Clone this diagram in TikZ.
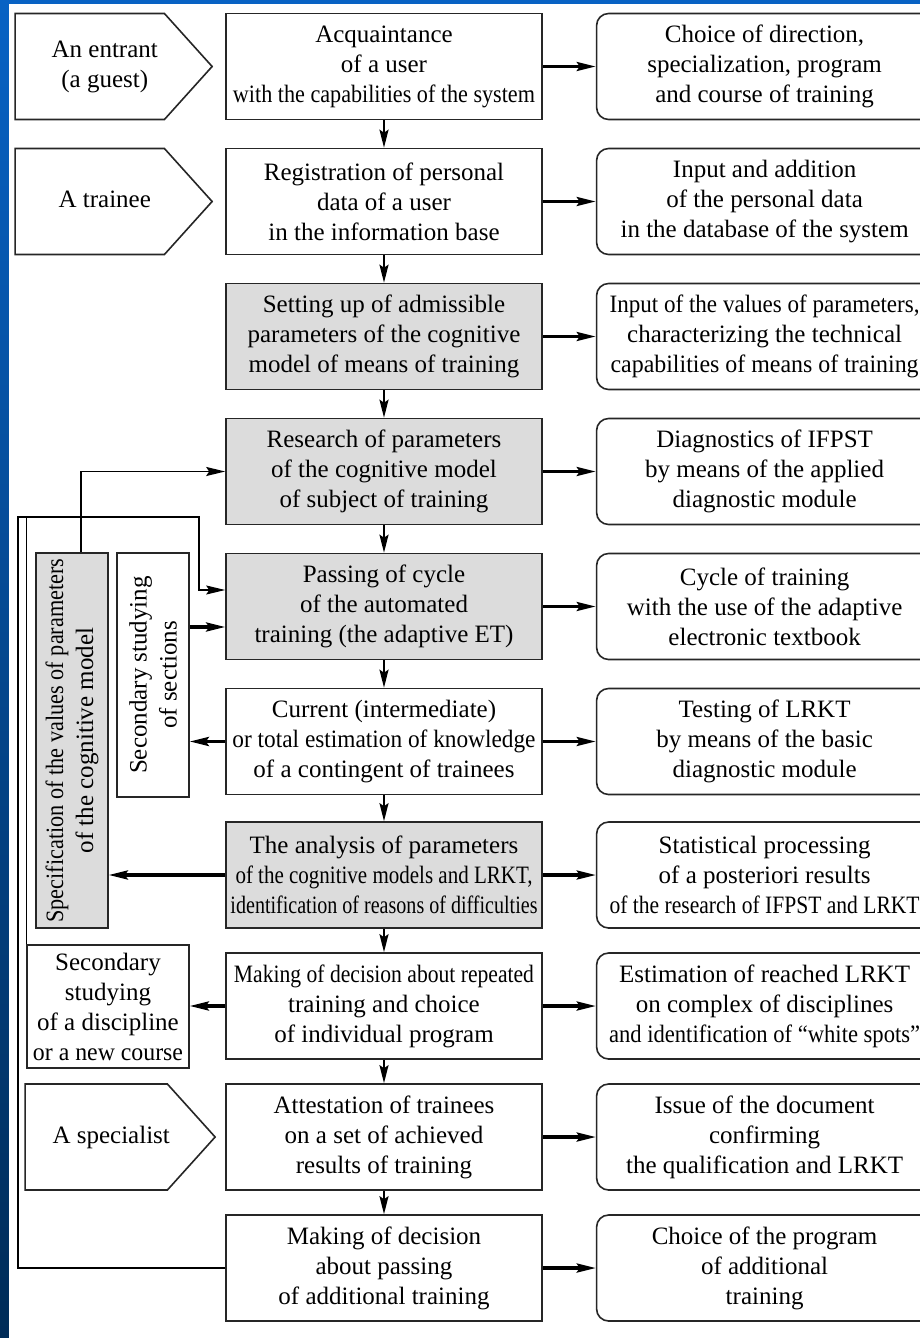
\documentclass[tikz,border=0pt]{standalone}
\usepackage{fontspec}
\setmainfont{Liberation Serif}
\usepackage{xcolor}
\usepackage{graphicx}
\usepackage{tikz}
\usetikzlibrary{shapes.geometric, shapes.symbols, arrows.meta, positioning}

\definecolor{slideblue}{RGB}{8,98,196}
\definecolor{slidenavy}{RGB}{0,44,88}
\definecolor{boxgray}{RGB}{220,220,220}
\newcommand{\squeeze}[2]{\resizebox{#1}{\height}{#2}}
\newcommand{\actortext}[1]{\hspace*{7.5pt}\begin{tabular}{@{}c@{}}#1\end{tabular}\hspace*{-7.5pt}}

\begin{document}
\begin{tikzpicture}[x=0.5pt, y=-0.5pt, node distance=67.5pt, font=\fontsize{12.5}{15}\selectfont]
        \tikzstyle{stage} = [rectangle, minimum width=158pt, minimum height=53pt, inner sep=1pt, align=center, draw=black!85, line width=0.8pt, fill=white]
        \tikzstyle{graystage} = [stage, fill=boxgray]
        \tikzstyle{result} = [rectangle, rounded corners=6pt, minimum width=168pt, minimum height=53pt, inner sep=1pt, align=center, draw=black!85, line width=0.8pt, fill=white]
        \tikzstyle{actor} = [signal, signal to=east, signal pointer angle=96, minimum height=53pt, minimum width=98.5pt, inner sep=1pt, draw=black!85, line width=0.8pt, fill=white]
        \tikzstyle{sidebox} = [rectangle, inner sep=1pt, align=center, draw=black!85, line width=0.8pt, fill=white]
        \tikzstyle{arrow} = [line width=1.6pt, -{Stealth[length=9.5pt, width=4.5pt, inset=1.5pt]}]
        \tikzstyle{downarrow} = [line width=1pt, -{Stealth[length=9pt, width=4.5pt, inset=1.5pt]}]
        \tikzstyle{loopline} = [line width=0.6pt]
        \tikzstyle{looparrow} = [loopline, -{Stealth[length=9.5pt, width=4.5pt, inset=1.5pt]}]

        \path[use as bounding box, clip] (0,0) rectangle (920,1338);
        \fill[top color=slideblue, bottom color=slidenavy] (0,0) rectangle (920,1338);
        \fill[white] (9,4) rectangle (920,1338);

        \node (acq) [stage] at (384,66.5) {Acquaintance\\of a user\\\squeeze{151pt}{with the capabilities of the system}};
        \node (reg) [stage, below of=acq] {Registration of personal\\data of a user\\in the information base};
        \node (setting) [graystage, below of=reg] {Setting up of admissible\\parameters of the cognitive\\model of means of training};
        \node (research) [graystage, below of=setting] {Research of parameters\\of the cognitive model\\of subject of training};
        \node (passing) [graystage, below of=research] {Passing of cycle\\of the automated\\training (the adaptive ET)};
        \node (current) [stage, below of=passing] {Current (intermediate)\\\squeeze{151.5pt}{or total estimation of knowledge}\\of a contingent of trainees};
        \node (analysis) [graystage, below of=current, yshift=0.75pt] {The analysis of parameters\\\squeeze{148.5pt}{of the cognitive models and LRKT,}\\\squeeze{153.5pt}{identification of reasons of difficulties}};
        \node (making) [stage, below of=analysis, yshift=2pt] {\squeeze{150pt}{Making of decision about repeated}\\training and choice\\of individual program};
        \node (attest) [stage, below of=making, yshift=2pt] {Attestation of trainees\\on a set of achieved\\results of training};
        \node (decide) [stage, below of=attest, yshift=2pt] {Making of decision\\about passing\\of additional training};

        \node (choice) [result, right=26.5pt of acq] {Choice of direction,\\specialization, program\\and course of training};
        \node (input) [result, right=26.5pt of reg] {Input and addition\\of the personal data\\in the database of the system};
        \node (values) [result, right=26.5pt of setting] {\squeeze{155pt}{Input of the values of parameters,}\\characterizing the technical\\\squeeze{154pt}{capabilities of means of training}};
        \node (diag) [result, right=26.5pt of research] {Diagnostics of IFPST\\by means of the applied\\diagnostic module};
        \node (cycle) [result, right=26.5pt of passing] {Cycle of training\\with the use of the adaptive\\electronic textbook};
        \node (testing) [result, right=26.5pt of current] {Testing of LRKT\\by means of the basic\\diagnostic module};
        \node (stat) [result, right=26.5pt of analysis] {Statistical processing\\of a posteriori results\\\squeeze{155pt}{of the research of IFPST and LRKT}};
        \node (estim) [result, right=26.5pt of making] {Estimation of reached LRKT\\on complex of disciplines\\\squeeze{155.5pt}{and identification of “white spots”}};
        \node (issue) [result, right=26.5pt of attest] {Issue of the document\\confirming\\the qualification and LRKT};
        \node (progchoice) [result, right=26.5pt of decide] {Choice of the program\\of additional\\training};

        \node (entrant) [actor, left=6pt of acq] {\actortext{An entrant\\(a guest)}};
        \node (trainee) [actor, left=6pt of reg] {\actortext{A trainee}};
        \node (specialist) [actor, minimum width=95pt, left=4.5pt of attest] {\actortext{A specialist}};

        \node (spec) [sidebox, fill=boxgray, rotate=90, minimum width=187.5pt, minimum height=36pt] at (72,740.5) {\squeeze{182pt}{Specification of the values of parameters}\\of the cognitive model};
        \node (sections) [sidebox, rotate=90, minimum width=122pt, minimum height=36pt] at (153,675) {Secondary studying\\of sections};
        \node (discipline) [sidebox, minimum width=81pt, minimum height=61.5pt] at (108,1006.5) {Secondary\\studying\\of a discipline\\\squeeze{75pt}{or a new course}};

        \draw [arrow] (acq) -- (choice);
        \draw [arrow] (reg) -- (input);
        \draw [arrow] (setting) -- (values);
        \draw [arrow] (research) -- (diag);
        \draw [arrow] (passing) -- (cycle);
        \draw [arrow] (current) -- (testing);
        \draw [arrow] (analysis) -- (stat);
        \draw [arrow] (making) -- (estim);
        \draw [arrow] (attest) -- (issue);
        \draw [arrow] (decide) -- (progchoice);

        \draw [downarrow] (acq) -- (reg);
        \draw [downarrow] (reg) -- (setting);
        \draw [downarrow] (setting) -- (research);
        \draw [downarrow] (research) -- (passing);
        \draw [downarrow] (passing) -- (current);
        \draw [downarrow] (current) -- (analysis);
        \draw [downarrow] (analysis) -- (making);
        \draw [downarrow] (making) -- (attest);
        \draw [downarrow] (attest) -- (decide);

        \coordinate (secin) at ([yshift=-10.25pt]passing.west);
        \coordinate (loopin) at ([yshift=8.25pt]passing.west);
        \coordinate (loopcorner) at (18,517);
        \coordinate (loopturn) at (199,517);

        \draw [arrow] (current.west) -- (current.west -| sections.south);
        \draw [arrow] (secin -| sections.south) -- (secin);
        \draw [arrow] (analysis.west) -- (analysis.west -| spec.south);
        \draw [arrow] (making.west) -- (making.west -| discipline.east);
        \draw [looparrow, line width=0.9pt] ([xshift=4.5pt]spec.east) |- (research.west);
        \draw [looparrow] (decide.west) -| (loopcorner) -- (loopturn) |- (loopin);
        \draw [loopline] (discipline.north west) -- (discipline.north west |- loopcorner);
\end{tikzpicture}
\end{document}
